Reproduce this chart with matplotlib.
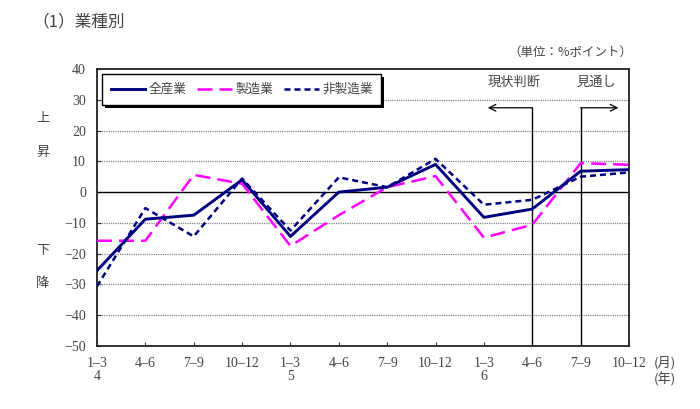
import matplotlib
matplotlib.use("Agg")
import matplotlib.pyplot as plt
from matplotlib.patches import Rectangle

quarters = ["1–3", "4–6", "7–9", "10–12", "1–3", "4–6", "7–9", "10–12", "1–3", "4–6", "7–9", "10–12"]
years = ["4", "", "", "", "5", "", "", "", "6", "", "", ""]
all_industries = [-25.5, -8.8, -7.5, 4.0, -14.4, 0.0, 1.6, 9.0, -8.2, -5.5, 6.8, 7.3]
manufacturing = [-15.8, -15.8, 5.6, 2.7, -17.5, -7.5, 1.6, 5.2, -14.8, -10.6, 9.4, 8.9]
non_manufacturing = [-30.6, -5.2, -14.4, 4.4, -12.5, 4.8, 1.6, 10.8, -4.1, -2.5, 5.0, 6.4]
series_names = ["全産業", "製造業", "非製造業"]

JP = ["Noto Sans CJK JP", "DejaVu Sans"]
NUM = ["Liberation Serif", "Noto Sans CJK JP"]
GRAY = "#444444"

fig = plt.figure(figsize=(7.0, 4.09), dpi=100)
ax = fig.add_axes([97/700, 1-346/409, 532/700, 277/409])

x = list(range(len(quarters)))
ax.plot(x, all_industries, color="#000080", lw=2.1, label=series_names[0], zorder=5)
ax.plot(x, manufacturing, color="#FF00FF", lw=1.8, dashes=(6, 2.8), label=series_names[1], zorder=4)
ax.plot(x, non_manufacturing, color="#000080", lw=1.8, dashes=(2.4, 1.6), label=series_names[2], zorder=4)

ax.set_xlim(0, 11)
ax.set_ylim(-50, 40)
ax.set_yticks(range(-50, 41, 10))
ax.set_yticklabels([str(v).replace("-", "−") for v in range(-50, 41, 10)], family=NUM, fontsize=10, color=GRAY)
ax.set_xticks(x)
ax.set_xticklabels([q + ("\n" + y if y else "\n") for q, y in zip(quarters, years)],
                   family=NUM, fontsize=10, color=GRAY, linespacing=1.0)
ax.tick_params(axis="both", direction="in", length=3, width=0.8, color="#333333")
ax.tick_params(axis="x", pad=8)
ax.tick_params(axis="y", pad=8)

for v in range(-40, 40, 10):
    if v == 0:
        ax.axhline(v, color="black", lw=1.0, zorder=2)
    else:
        ax.axhline(v, color="#888888", lw=0.9, ls=(0, (1, 0.8)), zorder=1)

for s in ax.spines.values():
    s.set_linewidth(1.3)
    s.set_color("#222222")

# vertical separators and arrows
ax.plot([9, 9], [27.4, -50], color="black", lw=1.0, zorder=3)
ax.plot([10, 10], [27.4, -50], color="black", lw=1.0, zorder=3)
ax.annotate("", xy=(8.08, 27.4), xytext=(9, 27.4),
            arrowprops=dict(arrowstyle="->", lw=0.9, color="black", mutation_scale=12, shrinkA=0, shrinkB=0))
ax.annotate("", xy=(10.78, 27.4), xytext=(10, 27.4),
            arrowprops=dict(arrowstyle="->", lw=0.9, color="black", mutation_scale=12, shrinkA=0, shrinkB=0))
ax.text(8.62, 35.7, "現状判断", family=JP, fontsize=9.5, color=GRAY, ha="center", va="center")
ax.text(10.33, 35.7, "見通し", family=JP, fontsize=9.5, color=GRAY, ha="center", va="center")

# legend
leg = ax.legend(loc="upper left", bbox_to_anchor=(4.7/532, 1-5.3/277), ncol=3, frameon=True,
                prop={"family": JP, "size": 9.1}, handlelength=2.75, handletextpad=0.25,
                columnspacing=0.87, borderpad=0.7, fancybox=False, shadow=False,
                borderaxespad=0, framealpha=1)
leg.get_frame().set_edgecolor("black")
leg.get_frame().set_facecolor("white")
leg.get_frame().set_linewidth(1.0)
leg.set_zorder(10)
for t in leg.get_texts():
    t.set_color(GRAY)
fig.canvas.draw()
bb = leg.get_window_extent().transformed(ax.transAxes.inverted())
sh = Rectangle((bb.x0 + 3/532, bb.y0 - 3/277), bb.width, bb.height, transform=ax.transAxes,
               facecolor="black", edgecolor="none", zorder=9, clip_on=False)
ax.add_patch(sh)

# side labels
for ch, yp in [("上", 118), ("昇", 152), ("下", 250), ("降", 283)]:
    fig.text(43/700, 1-yp/409, ch, family=JP, fontsize=9.5, color=GRAY, ha="center", va="center")

fig.text(32/700, 1-22/409, "（1）業種別", family=JP, fontsize=12, color=GRAY, ha="left", va="center")
fig.text(632/700, 1-52/409, "（単位：%ポイント）", family=JP, fontsize=9, color=GRAY, ha="right", va="center")
fig.text(665/700, 1-363/409, "(月)", family=JP, fontsize=9.5, color=GRAY, ha="center", va="center")
fig.text(665/700, 1-380/409, "(年)", family=JP, fontsize=9.5, color=GRAY, ha="center", va="center")

fig.savefig("out.png", dpi=100)
